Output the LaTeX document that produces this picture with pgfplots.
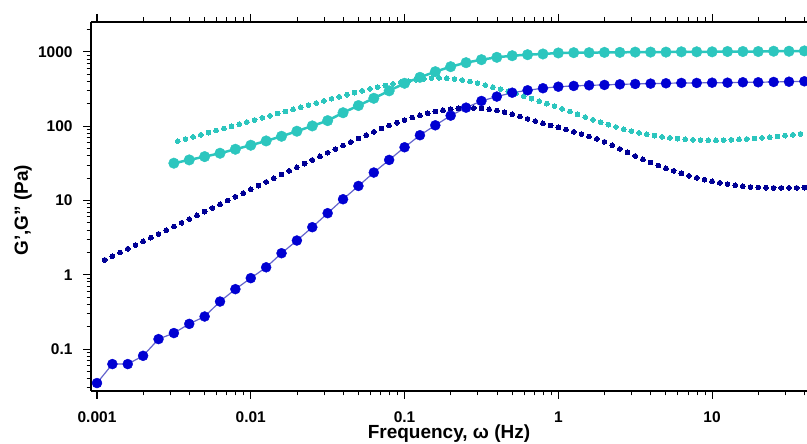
\documentclass[border=0pt]{standalone}
\usepackage{fontspec}
\setmainfont{Liberation Sans}
\usepackage{pgfplots}
\pgfplotsset{compat=1.18}
\definecolor{cyanS}{RGB}{44,198,190}
\definecolor{blueS}{RGB}{0,0,210}
\definecolor{blueL}{RGB}{100,100,205}
\definecolor{blueD}{RGB}{0,0,150}
\begin{document}
\begin{tikzpicture}
\begin{axis}[
  at={(0,0)}, anchor=south west,
  scale only axis, width=716pt, height=369pt,
  xmode=log, ymode=log,
  xmin=9.14e-4, xmax=41.4, ymin=0.0272, ymax=2535,
  axis x line=box, axis y line=left,
  axis line style={line width=1.8pt, black},
  x axis line style={-}, y axis line style={-},
  tick align=outside,
  major tick length=8pt, minor tick length=4.5pt,
  tick style={black, line width=1pt},
  xtick={0.001,0.01,0.1,1,10},
  xticklabels={0.001,0.01,0.1,1,10},
  ytick={0.1,1,10,100,1000},
  yticklabels={0.1,1,10,100,1000},
  minor xtick={0.002,0.003,0.004,0.005,0.006,0.007,0.008,0.009,0.02,0.03,0.04,0.05,0.06,0.07,0.08,0.09,0.2,0.3,0.4,0.5,0.6,0.7,0.8,0.9,2,3,4,5,6,7,8,9,20,30,40},
  minor ytick={0.03,0.04,0.05,0.06,0.07,0.08,0.09,0.2,0.3,0.4,0.5,0.6,0.7,0.8,0.9,2,3,4,5,6,7,8,9,20,30,40,50,60,70,80,90,200,300,400,500,600,700,800,900,2000},
  tick label style={font=\fontsize{15.5}{18}\selectfont\bfseries},
  xticklabel style={yshift=-9pt},
  yticklabel style={xshift=-7pt},
  /pgf/number format/assume math mode=true,
  xlabel={Frequency, ω (Hz)},
  ylabel={G\symbol{39},G\symbol{34} (Pa)},
  label style={font=\fontsize{19}{22}\selectfont\bfseries},
  xlabel style={at={(axis description cs:0.5,0)}, anchor=base, yshift=-48pt},
  ylabel style={at={(axis description cs:-0.095,0.49)}, anchor=center},
]
% G'' blue (dotted)
\addplot[only marks, mark=*, mark size=2.4pt, mark options={fill=blueD, draw=blueD, line width=0pt}] coordinates {
(1.122e-3,1.585) (1.259e-3,1.778) (1.413e-3,1.995) (1.585e-3,2.239) (1.778e-3,2.512)
(1.995e-3,2.818) (2.239e-3,3.162) (2.512e-3,3.548) (2.818e-3,3.981) (3.162e-3,4.467)
(3.548e-3,5.012) (3.981e-3,5.623) (4.467e-3,6.310) (5.012e-3,7.079) (5.623e-3,7.943)
(6.310e-3,8.913) (7.079e-3,10.00) (7.943e-3,11.22) (8.913e-3,12.59) (1.000e-2,14.13)
(1.122e-2,15.85) (1.259e-2,17.78) (1.413e-2,19.95) (1.585e-2,22.39) (1.778e-2,25.1)
(1.995e-2,28.0) (2.239e-2,31.4) (2.512e-2,35.2) (2.818e-2,39.4) (3.162e-2,44.0)
(3.548e-2,49.2) (3.981e-2,55.0) (4.467e-2,61.4) (5.012e-2,68.4) (5.623e-2,76.0)
(6.310e-2,84.3) (7.079e-2,93.0) (7.943e-2,102.3) (8.913e-2,111.7) (0.1000,121.1)
(0.1122,130.9) (0.1259,140.3) (0.1413,149.6) (0.1585,157.8) (0.1778,164.8)
(0.1995,170.6) (0.2239,174.2) (0.2512,176.2) (0.2818,176.2) (0.3162,173.8)
(0.3548,169.0) (0.3981,162.6) (0.4467,154.5) (0.5012,145.5) (0.5623,134.9)
(0.6310,125.9) (0.7079,117.5) (0.7943,109.6) (0.8913,102.3) (1.000,96.6)
(1.122,90.2) (1.259,84.1) (1.413,78.5) (1.585,72.8) (1.778,67.6)
(1.995,61.7) (2.239,55.6) (2.512,49.5) (2.818,44.5) (3.162,39.8)
(3.548,35.9) (3.981,32.4) (4.467,29.6) (5.012,27.2) (5.623,25.1)
(6.310,23.2) (7.079,21.5) (7.943,20.2) (8.913,19.05) (10.00,18.1)
(11.22,17.3) (12.59,16.6) (14.13,16.0) (15.85,15.6) (17.78,15.2)
(19.95,15.0) (22.39,14.9) (25.12,14.8) (28.18,14.8) (31.62,14.8)
(35.48,14.8) (39.81,14.9)
};
% G'' cyan (dotted)
\addplot[only marks, mark=*, mark size=2.4pt, mark options={fill=cyanS, draw=cyanS, line width=0pt}] coordinates {
(3.350e-3,63.10) (3.758e-3,67.30) (4.217e-3,71.94) (4.732e-3,76.74) (5.309e-3,82.04)
(5.957e-3,87.70) (6.683e-3,93.54) (7.499e-3,100.0) (8.414e-3,106.7) (9.441e-3,114.0)
(1.059e-2,121.6) (1.189e-2,130.0) (1.334e-2,138.7) (1.496e-2,148.3) (1.679e-2,158.1)
(1.884e-2,169.0) (2.113e-2,180.3) (2.371e-2,192.8) (2.661e-2,205.6) (2.985e-2,219.8)
(3.350e-2,234.4) (3.758e-2,250.0) (4.217e-2,266.1) (4.732e-2,283.1) (5.309e-2,300.6)
(5.957e-2,318.4) (6.683e-2,336.5) (7.499e-2,354.8) (8.414e-2,373.3) (9.441e-2,390.8)
(0.1059,407.4) (0.1189,423.6) (0.1334,436.5) (0.1496,444.6) (0.1679,447.7)
(0.1884,444.6) (0.2113,434.5) (0.2371,419.8) (0.2661,400.9) (0.2985,380.2)
(0.3350,358.9) (0.3758,337.3) (0.4217,316.2) (0.4732,295.8) (0.5309,276.7)
(0.5957,254.1) (0.6683,235.5) (0.7499,217.8) (0.8414,201.4) (0.9441,186.2)
(1.059,171.8) (1.189,157.8) (1.334,144.9) (1.496,133.0) (1.679,122.5)
(1.884,113.2) (2.113,105.0) (2.371,97.72) (2.661,91.20) (2.985,85.90)
(3.350,81.47) (3.758,77.80) (4.217,74.64) (4.732,71.94) (5.309,69.82)
(5.957,68.08) (6.683,66.83) (7.499,65.77) (8.414,65.16) (9.441,64.86)
(10.59,64.86) (11.89,65.16) (13.34,65.77) (14.96,66.53) (16.79,67.45)
(18.84,68.55) (21.13,69.82) (23.71,71.29) (26.61,72.95) (29.85,74.82)
(33.50,76.91) (37.58,79.07)
};
% G' blue (solid)
\addplot[draw=blueL, line width=1.2pt, mark=*, mark size=5pt, mark options={fill=blueS, draw=blueS, line width=0.4pt}] coordinates {
(1.000e-3,0.0348) (1.259e-3,0.0627) (1.585e-3,0.0627) (1.995e-3,0.081) (2.512e-3,0.136)
(3.162e-3,0.164) (3.981e-3,0.218) (5.012e-3,0.274) (6.310e-3,0.436) (7.943e-3,0.64)
(1.000e-2,0.90) (1.259e-2,1.26) (1.585e-2,1.95) (1.995e-2,2.89) (2.512e-2,4.37)
(3.162e-2,6.75) (3.981e-2,10.4) (5.012e-2,15.7) (6.310e-2,23.8) (7.943e-2,35.2)
(0.1000,52.1) (0.1259,75.7) (0.1585,103) (0.1995,139) (0.2512,178)
(0.3162,219) (0.3981,251) (0.5012,283) (0.6310,305) (0.7943,325)
(1.000,341) (1.259,349) (1.585,356) (1.995,360) (2.512,367)
(3.162,371) (3.981,375) (5.012,379) (6.310,383) (7.943,383)
(10.00,386) (12.59,386) (15.85,391) (19.95,391) (25.12,395)
(31.62,398) (39.81,403)
};
% G' cyan (solid)
\addplot[draw=cyanS, line width=2.5pt, mark=*, mark size=5.3pt, mark options={fill=cyanS, draw=cyanS, line width=0.4pt}] coordinates {
(3.162e-3,31.8) (3.981e-3,35.2) (5.012e-3,39.0) (6.310e-3,43.3) (7.943e-3,49.0)
(1.000e-2,55.5) (1.259e-2,63.4) (1.585e-2,73.3) (1.995e-2,85.7) (2.512e-2,101)
(3.162e-2,119) (3.981e-2,152) (5.012e-2,190) (6.310e-2,238) (7.943e-2,300)
(0.1000,379) (0.1259,456) (0.1585,543) (0.1995,634) (0.2512,718)
(0.3162,788) (0.3981,848) (0.5012,891) (0.6310,920) (0.7943,940)
(1.000,970) (1.259,979) (1.585,979) (1.995,988) (2.512,988)
(3.162,997) (3.981,997) (5.012,997) (6.310,1006) (7.943,1006)
(10.00,1006) (12.59,1015) (15.85,1015) (19.95,1015) (25.12,1024)
(31.62,1024) (39.81,1033)
};
\end{axis}
\pgfresetboundingbox
\useasboundingbox (-91pt,-53pt) rectangle (716pt,391pt);
\end{tikzpicture}
\end{document}
